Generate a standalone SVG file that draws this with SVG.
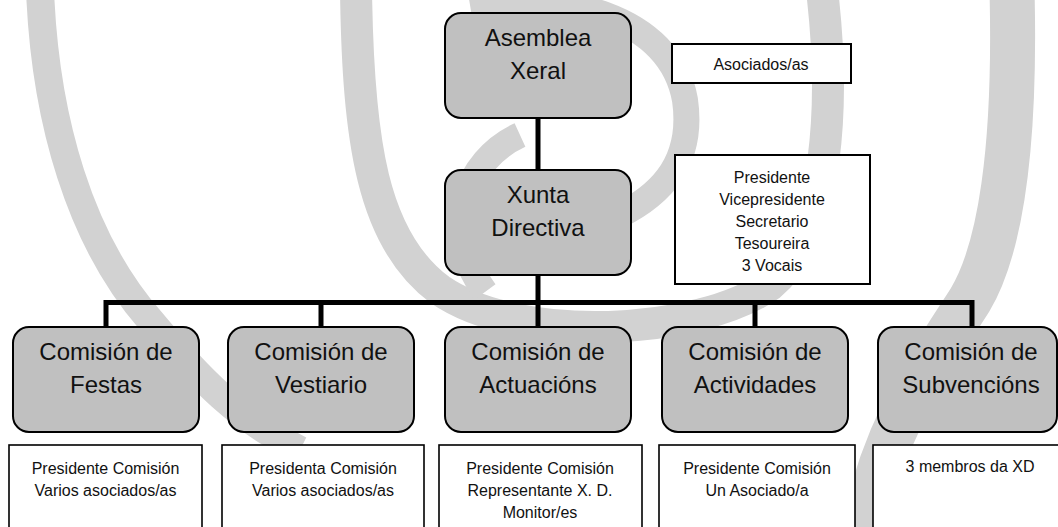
<svg xmlns="http://www.w3.org/2000/svg" width="1058" height="527" viewBox="0 0 1058 527">
<style>
.wm{fill:none;stroke:#d2d2d2;stroke-linecap:butt}
.node rect{fill:#c0c0c0;stroke:#000;stroke-width:2}
.info rect{fill:#fff;stroke:#000;stroke-width:1.6}
.big{font-family:"Liberation Sans",Arial,sans-serif;font-size:24px;fill:#111;text-anchor:middle}
.small{font-family:"Liberation Sans",Arial,sans-serif;font-size:16px;fill:#111;text-anchor:middle}
.conn{fill:none;stroke:#000;stroke-width:5;stroke-linejoin:miter;stroke-linecap:butt}
</style>
<rect x="0" y="0" width="1058" height="527" fill="#fff"/>
<g id="watermark">
<path class="wm" stroke-width="28" d="M 40,-10 C 45,120 80,240 150,320 C 200,380 240,420 300,450"/>
<path class="wm" stroke-width="32" d="M 356,-10 C 358,140 372,240 440,290 C 520,345 700,335 770,285 C 830,235 835,100 822,-10"/>
<path class="wm" stroke-width="26" d="M 470,5 C 560,-10 670,15 685,100 C 695,170 650,200 620,215"/>
<path class="wm" stroke-width="26" d="M 520,135 C 465,160 440,230 485,292"/>
<path class="wm" stroke-width="45" d="M 1012,-10 C 1016,150 1000,250 970,300 C 935,355 880,430 862,540"/>
</g>
<g id="connectors">
<line class="conn" x1="538" y1="118" x2="538" y2="170"/>
<line class="conn" x1="538" y1="275" x2="538" y2="327"/>
<path class="conn" d="M 106,327 V 302.5 H 972 V 327"/>
<line class="conn" x1="321" y1="302.5" x2="321" y2="327"/>
<line class="conn" x1="755" y1="302.5" x2="755" y2="327"/>
</g>
<g id="asemblea" class="node">
<rect x="445" y="13" width="186" height="105" rx="16"/>
<text class="big" x="538" y="46">Asemblea</text>
<text class="big" x="538" y="79">Xeral</text>
</g>
<g id="asociados" class="info">
<rect x="672" y="44" width="179" height="39" style="stroke-width:2"/>
<text class="small" x="761" y="70">Asociados/as</text>
</g>
<g id="xunta" class="node">
<rect x="445" y="170" width="186" height="105" rx="16"/>
<text class="big" x="538" y="203">Xunta</text>
<text class="big" x="538" y="236">Directiva</text>
</g>
<g id="xunta-membros" class="info">
<rect x="675" y="155" width="195" height="129" style="stroke-width:2"/>
<text class="small" x="772" y="183">Presidente</text>
<text class="small" x="772" y="205">Vicepresidente</text>
<text class="small" x="772" y="227">Secretario</text>
<text class="small" x="772" y="249">Tesoureira</text>
<text class="small" x="772" y="271">3 Vocais</text>
</g>
<g id="festas" class="node">
<rect x="13" y="327" width="186" height="105" rx="16"/>
<text class="big" x="106" y="360">Comisión de</text>
<text class="big" x="106" y="393">Festas</text>
</g>
<g id="vestiario" class="node">
<rect x="228" y="327" width="186" height="105" rx="16"/>
<text class="big" x="321" y="360">Comisión de</text>
<text class="big" x="321" y="393">Vestiario</text>
</g>
<g id="actuacions" class="node">
<rect x="445" y="327" width="186" height="105" rx="16"/>
<text class="big" x="538" y="360">Comisión de</text>
<text class="big" x="538" y="393">Actuacións</text>
</g>
<g id="actividades" class="node">
<rect x="662" y="327" width="186" height="105" rx="16"/>
<text class="big" x="755" y="360">Comisión de</text>
<text class="big" x="755" y="393">Actividades</text>
</g>
<g id="subvencions" class="node">
<rect x="878" y="327" width="179" height="105" rx="16"/>
<text class="big" x="971" y="360">Comisión de</text>
<text class="big" x="971" y="393">Subvencións</text>
</g>
<g id="festas-membros" class="info">
<rect x="9" y="445" width="193" height="100"/>
<text class="small" x="105.5" y="474">Presidente Comisión</text>
<text class="small" x="105.5" y="496">Varios asociados/as</text>
</g>
<g id="vestiario-membros" class="info">
<rect x="222" y="445" width="202" height="100"/>
<text class="small" x="323" y="474">Presidenta Comisión</text>
<text class="small" x="323" y="496">Varios asociados/as</text>
</g>
<g id="actuacions-membros" class="info">
<rect x="439" y="445" width="203" height="100"/>
<text class="small" x="540" y="474">Presidente Comisión</text>
<text class="small" x="540" y="496">Representante X. D.</text>
<text class="small" x="540" y="518">Monitor/es</text>
</g>
<g id="actividades-membros" class="info">
<rect x="659" y="445" width="196" height="100"/>
<text class="small" x="757" y="474">Presidente Comisión</text>
<text class="small" x="757" y="496">Un Asociado/a</text>
</g>
<g id="subvencions-membros" class="info">
<rect x="873" y="445" width="200" height="100"/>
<text class="small" x="970" y="472">3 membros da XD</text>
</g>
</svg>
